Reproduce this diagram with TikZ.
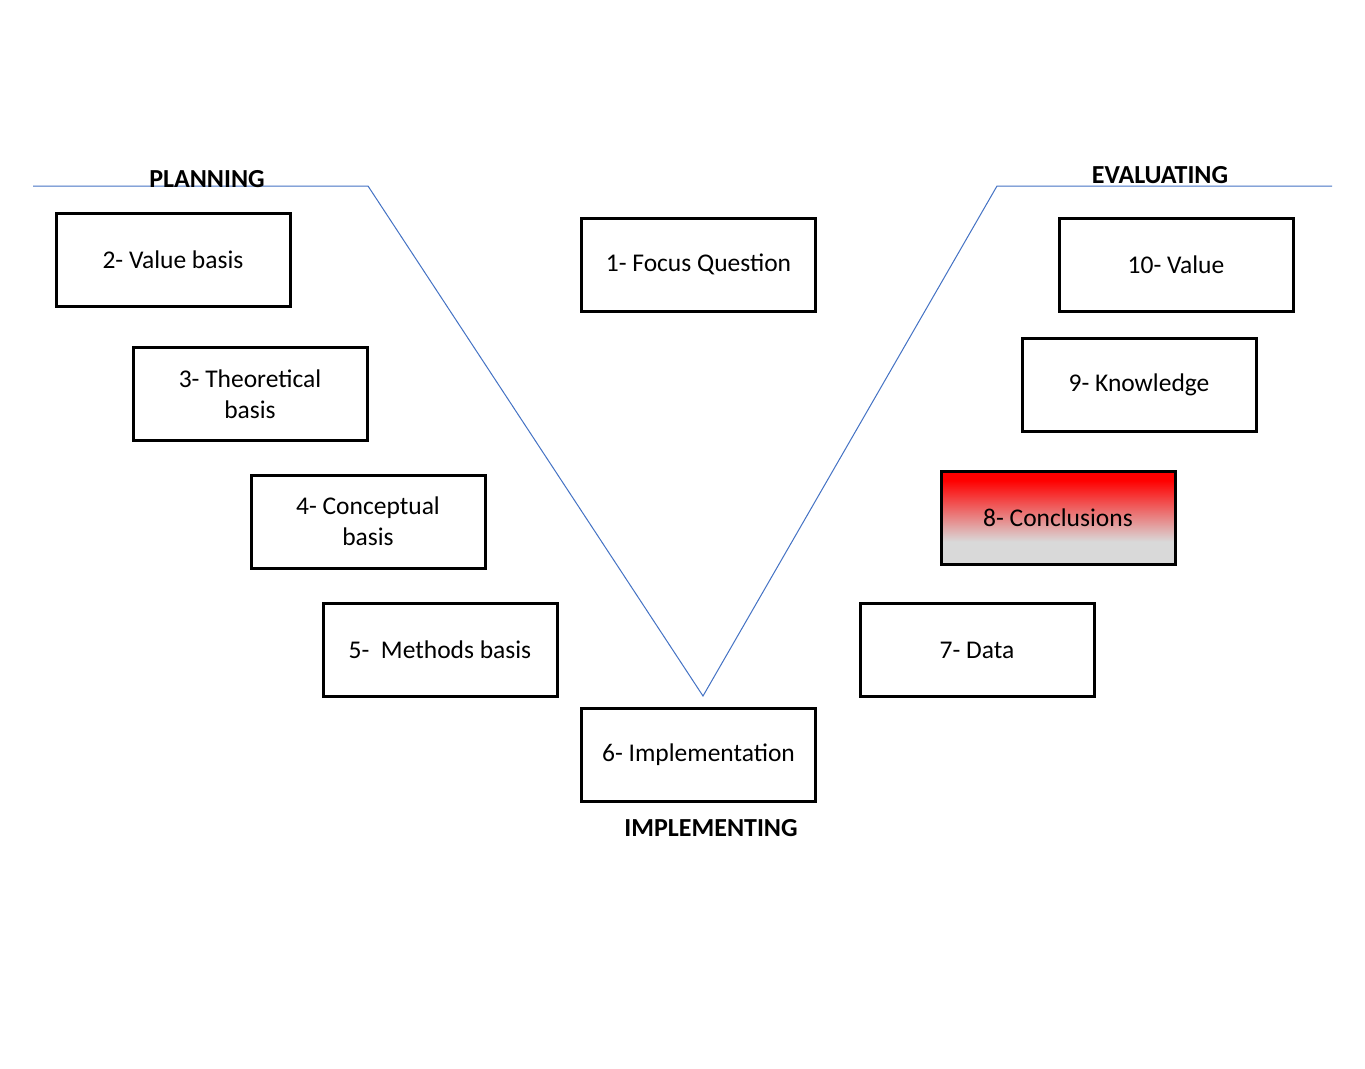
\documentclass[tikz,border=0pt]{standalone}
\usepackage{fontspec}
\setmainfont{Carlito}
\definecolor{vblue}{RGB}{68,114,196}
\definecolor{lgray}{RGB}{217,217,217}
\pgfdeclareverticalshading{conclshade}{100bp}{color(0bp)=(lgray); color(37bp)=(lgray); color(70bp)=(red); color(100bp)=(red)}
\begin{document}
\begin{tikzpicture}[x=1pt,y=-1pt,
  stepbox/.style={draw=black, line width=3pt, rectangle, minimum width=234pt, minimum height=93pt, align=center, font=\fontsize{25.5}{31}\selectfont, inner sep=2pt},
  phase/.style={font=\fontsize{26}{29}\selectfont\bfseries, inner sep=0pt},
  vline/.style={draw=vblue, line width=1pt}]
\useasboundingbox (0,0) rectangle (1365,1068);
\fill[white] (0,0) rectangle (1365,1068);
% V shape
\coordinate (la) at (33,186);
\coordinate (lb) at (368,186);
\coordinate (bot) at (703,696);
\coordinate (rb) at (997,186);
\coordinate (ra) at (1332,186);
\draw[vline] (la) -- (lb) -- (bot) -- (rb) -- (ra);
% phase labels
\node[phase] (plan) at (207,179) {PLANNING};
\node[phase] (eval) at (1160,175) {EVALUATING};
\node[phase] (impl) at (711,828) {IMPLEMENTING};
% boxes
\node[stepbox] (b2) at (173,260) {2- Value basis};
\node[stepbox] (b1) at (698.5,264.5) {1- Focus Question};
\node[stepbox] (b10) at (1176,264.5) {10- Value};
\node[stepbox] (b3) at (250,394) {3- Theoretical\\basis};
\node[stepbox] (b9) at (1139,385) {9- Knowledge};
\node[stepbox] (b4) at (368,521.5) {4- Conceptual\\basis};
\node[stepbox, shading=conclshade] (b8) at (1058,517.5) {8- Conclusions};
\node[stepbox] (b5) at (440,650) {5-\ \ Methods basis};
\node[stepbox] (b7) at (977,650) {7- Data};
\node[stepbox] (b6) at (698.5,755) {6- Implementation};
\end{tikzpicture}
\end{document}
